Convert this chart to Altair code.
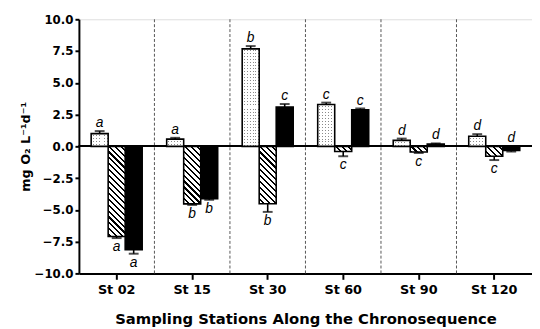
import math
import altair as alt
import pandas as pd

# ---------------- data ----------------
stations = ["St 02", "St 15", "St 30", "St 60", "St 90", "St 120"]
series = ["Dotted", "Hatched", "Solid"]

dotted = [1.00, 0.57, 7.67, 3.29, 0.47, 0.80]
dotted_err = [0.20, 0.10, 0.22, 0.15, 0.14, 0.16]
hatched = [-7.10, -4.53, -4.52, -0.41, -0.44, -0.78]
hatched_err = [0.12, 0.08, 0.64, 0.37, 0.08, 0.30]
solid = [-8.14, -4.13, 3.10, 2.87, 0.18, -0.33]
solid_err = [0.31, 0.08, 0.23, 0.11, 0.05, 0.08]

letters_dotted = ["a", "a", "b", "c", "d", "d"]
letters_hatched = ["a", "b", "b", "c", "c", "c"]
letters_solid = ["a", "b", "c", "c", "d", "d"]
side_dotted = ["above"] * 6
side_hatched = ["below"] * 6
side_solid = ["below", "below", "above", "above", "above", "above"]

y_ticks = [-10.0, -7.5, -5.0, -2.5, 0.0, 2.5, 5.0, 7.5, 10.0]

# ---------------- layout ----------------
W, H = 460, 258
PX_PER_UNIT = H / 20.0
OFF_PAD = 0.72
BAR_W = (W / len(stations)) / (3 + 2 * OFF_PAD)
AXFONT = "DejaVu Sans"
LETFONT = "Liberation Sans"

rows = []
for name, vals, errs, lets, sides in [
    ("Dotted", dotted, dotted_err, letters_dotted, side_dotted),
    ("Hatched", hatched, hatched_err, letters_hatched, side_hatched),
    ("Solid", solid, solid_err, letters_solid, side_solid),
]:
    for st, v, e, l, s in zip(stations, vals, errs, lets, sides):
        end = v + e if v >= 0 else v - e
        anchor = max(end, 0) if s == "above" else min(end, 0)
        rows.append(dict(station=st, series=name, value=v, err_end=end,
                         letter=l, side=s, anchor=anchor))
df = pd.DataFrame(rows)
sep_df = pd.DataFrame({"station": stations[1:]})


def X(**kw):
    return alt.X("station:N", sort=stations,
                 scale=alt.Scale(domain=stations, paddingInner=0, paddingOuter=0),
                 axis=alt.Axis(title="Sampling Stations Along the Chronosequence",
                               labelAngle=0, labelFontSize=13, labelFontWeight="bold",
                               labelFont=AXFONT, labelColor="black", labelPadding=4,
                               tickSize=6, tickWidth=2, tickColor="black",
                               domainWidth=2, domainColor="black",
                               titleFont=AXFONT, titleFontSize=15, titleFontWeight="bold",
                               titleColor="black", titlePadding=16, grid=False),
                 **kw)


YSCALE = alt.Scale(domain=[-10, 10], nice=False, zero=False)
YAXIS = alt.Axis(title="mg O\u2082 L\u207b\u00b9d\u207b\u00b9", values=y_ticks, format=".1f",
                 labelFontSize=12, labelFontWeight="bold", labelFont=AXFONT,
                 labelColor="black", labelPadding=2, tickSize=4, tickWidth=2,
                 tickColor="black", domainWidth=2, domainColor="black",
                 titleFont=AXFONT, titleFontSize=13, titleFontWeight="bold",
                 titleColor="black", titlePadding=2, grid=False)


def Y(field):
    return alt.Y(field, type="quantitative", scale=YSCALE, axis=YAXIS)


XOFF = alt.XOffset("series:N", sort=series,
                   scale=alt.Scale(domain=series, paddingInner=0, paddingOuter=OFF_PAD))


def stripe_stops(length, period, width, on, off, phase=0.0):
    stops = [{"offset": 0, "color": off}]
    n = 0
    while True:
        a = phase + n * period
        if a >= length:
            break
        b = min(a + width, length)
        oa, ob = max(a, 0) / length, b / length
        stops += [{"offset": oa, "color": off}, {"offset": oa, "color": on},
                  {"offset": ob, "color": on}, {"offset": ob, "color": off}]
        n += 1
    stops.append({"offset": 1, "color": off})
    return stops


def hatch_gradient(w, h, period=6.0, frac=0.36):
    total = w + h
    def off(c):
        return min(max((c + h) / total, 0.0), 1.0)
    stops = [{"offset": 0, "color": "white"}]
    for n in range(math.floor(-h / period) - 1, math.ceil(w / period) + 2):
        a = n * period
        b = a + frac * period
        if b <= -h or a >= w:
            continue
        oa, ob = off(a), off(b)
        stops += [{"offset": oa, "color": "white"}, {"offset": oa, "color": "black"},
                  {"offset": ob, "color": "black"}, {"offset": ob, "color": "white"}]
    stops.append({"offset": 1, "color": "white"})
    k = total / (w * w + h * h)
    return {"gradient": "linear", "x1": 0, "y1": 1, "x2": k * w, "y2": 1 - k * h,
            "stops": stops}


base = alt.Chart(df)
bar_enc = dict(x=X(), xOffset=XOFF, y=Y("value"))

layers = []
# dashed separators between stations
layers.append(alt.Chart(sep_df).mark_rule(color="#555555", strokeDash=[3, 2], strokeWidth=1)
              .encode(x=X(bandPosition=0)))
# zero line
layers.append(alt.Chart(df).mark_rule(color="black", strokeWidth=1.5)
              .encode(y=alt.Y(datum=0, type="quantitative", scale=YSCALE, axis=YAXIS)))

# solid bars
layers.append(base.transform_filter(alt.datum.series == "Solid")
              .mark_bar(fill="black", stroke="black", strokeWidth=1.6).encode(**bar_enc))

# hatched bars, one gradient per bar (depends on bar height)
for st, v in zip(stations, hatched):
    h = abs(v) * PX_PER_UNIT
    layers.append(base.transform_filter((alt.datum.series == "Hatched") & (alt.datum.station == st))
                  .mark_bar(fill=hatch_gradient(BAR_W, h), stroke="black", strokeWidth=1.6)
                  .encode(**bar_enc))

# dotted bars: vertical gray lines masked by horizontal white rows
vert = {"gradient": "linear", "x1": 0, "y1": 0, "x2": 1, "y2": 0,
        "stops": stripe_stops(BAR_W, 3.0, 1.0, "#8a8a8a", "white", phase=1.5)}
layers.append(base.transform_filter(alt.datum.series == "Dotted")
              .mark_bar(fill=vert, strokeWidth=0).encode(**bar_enc))
for st, v in zip(stations, dotted):
    h = abs(v) * PX_PER_UNIT
    mask = {"gradient": "linear", "x1": 0, "y1": 0, "x2": 0, "y2": 1,
            "stops": stripe_stops(h, 3.0, 1.0, "rgba(255,255,255,0)", "white", phase=1.5)}
    layers.append(base.transform_filter((alt.datum.series == "Dotted") & (alt.datum.station == st))
                  .mark_bar(fill=mask, stroke="black", strokeWidth=1.6).encode(**bar_enc))

# error bars
layers.append(base.mark_rule(color="black", strokeWidth=1.6)
              .encode(x=X(), xOffset=XOFF, y=Y("value"), y2="err_end"))
layers.append(base.mark_tick(color="black", size=10, thickness=2, orient="horizontal")
              .encode(x=X(), xOffset=XOFF, y=Y("err_end")))

# letters
layers.append(base.transform_filter(alt.datum.side == "above")
              .mark_text(font=LETFONT, fontStyle="italic", fontSize=14, color="black",
                         baseline="alphabetic", dy=-4)
              .encode(x=X(), xOffset=XOFF, y=Y("anchor"), text="letter"))
layers.append(base.transform_filter(alt.datum.side == "below")
              .mark_text(font=LETFONT, fontStyle="italic", fontSize=14, color="black",
                         baseline="alphabetic", dy=13)
              .encode(x=X(), xOffset=XOFF, y=Y("anchor"), text="letter"))

chart = (alt.layer(*layers)
         .properties(width=W, height=H,
                     autosize=alt.AutoSizeParams(type="none"),
                     padding={"left": 72, "top": 9, "right": 0, "bottom": 54})
         .configure_view(stroke="black", strokeWidth=2)
         .configure(background="white"))

chart.save("out.html", embed_options={"renderer": "svg", "actions": False})
